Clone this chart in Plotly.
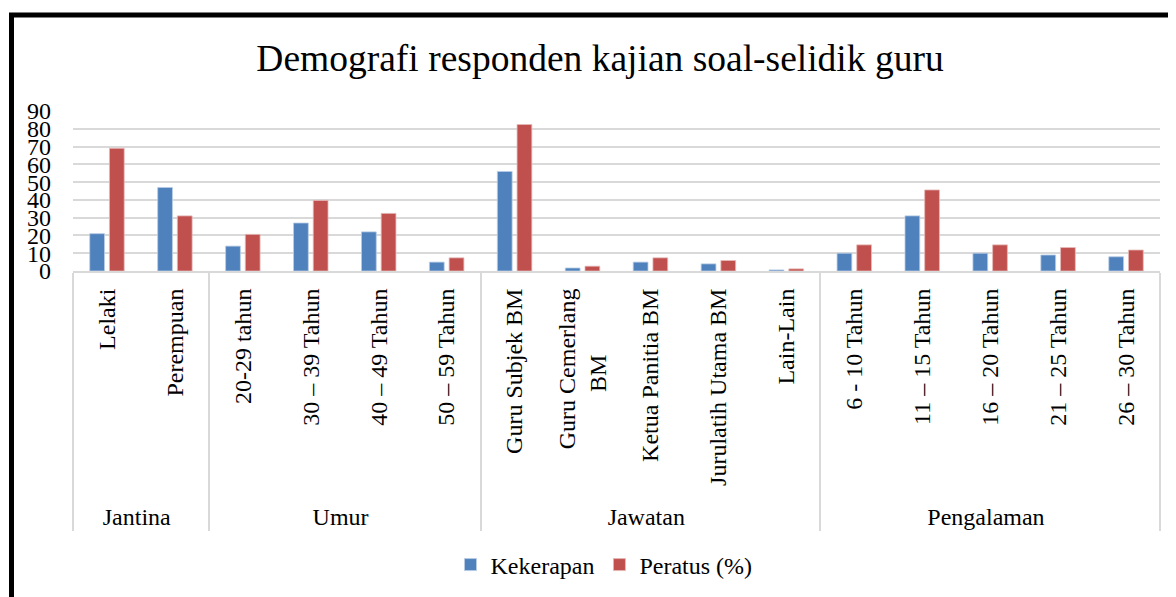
import plotly.graph_objects as go

groups = ["Jantina", "Jantina",
          "Umur", "Umur", "Umur", "Umur",
          "Jawatan", "Jawatan", "Jawatan", "Jawatan", "Jawatan",
          "Pengalaman", "Pengalaman", "Pengalaman", "Pengalaman", "Pengalaman"]
NB = "\u00a0"
labels = ["Lelaki", "Perempuan",
          "20-29 tahun", "30 – 39 Tahun", "40 – 49 Tahun", "50 – 59 Tahun",
          "Guru Subjek BM", "Guru Cemerlang<br>BM" + NB * 11, "Ketua Panitia BM", "Jurulatih Utama BM", "Lain-Lain",
          "6 - 10 Tahun", "11 – 15 Tahun", "16 – 20 Tahun", "21 – 25 Tahun", "26 – 30 Tahun"]
kekerapan = [21, 47, 14, 27, 22, 5, 56, 1.7, 5, 4, 0.6, 10, 31, 10, 9, 8]
peratus = [69, 31, 20.6, 39.7, 32.4, 7.4, 82.4, 2.7, 7.4, 5.9, 1.2, 14.7, 45.6, 14.7, 13.2, 11.8]
yticks = [0, 10, 20, 30, 40, 50, 60, 70, 80, 90]

FONT = "Liberation Serif"
OFF = 8                      # page body margin
W, H = 1176 - OFF, 597 - OFF
# plot area in screenshot pixels
X0, X1, Y0, Y1 = 73, 1160, 111, 272
L, T = X0 - OFF, Y0 - OFF
R, B = W - (X1 - OFF), H - (Y1 - OFF)
pw, ph = X1 - X0, Y1 - Y0

def px(x):
    return (x - X0) / pw

def py(y):
    return (Y1 - y) / ph

fig = go.Figure()
fig.add_trace(go.Bar(x=[groups, labels], y=kekerapan, name="Kekerapan",
                     marker=dict(color="#4F81BD", line=dict(color="#B9CDE5", width=0.8))))
fig.add_trace(go.Bar(x=[groups, labels], y=peratus, name="Peratus (%)",
                     marker=dict(color="#C0504D", line=dict(color="#E6B9B8", width=0.8))))

fig.update_layout(
    width=W, height=H,
    margin=dict(l=L, r=R, t=T, b=B),
    paper_bgcolor="white", plot_bgcolor="white",
    barmode="group", bargap=0.42, bargroupgap=0.25,
    font=dict(family=FONT, size=24, color="black"),
    title=dict(text="Demografi responden kajian soal-selidik guru",
               font=dict(family=FONT, size=37.5, color="black"),
               xref="container", x=(600 - OFF) / W, xanchor="center",
               yref="container", y=1 - (58 - OFF) / H, yanchor="middle"),
    legend=dict(orientation="h", x=px(604), xanchor="center", y=py(565), yanchor="middle",
                font=dict(family=FONT, size=24), traceorder="normal", itemwidth=30),
    showlegend=True,
)
fig.update_yaxes(range=[0, 90], tickvals=yticks, showgrid=True, gridcolor="#D9D9D9",
                 gridwidth=2, zeroline=False, showline=False, ticks="",
                 tickfont=dict(family=FONT, size=24), ticklabelstandoff=21)
fig.update_xaxes(type="multicategory", tickangle=-90, showline=True, linecolor="#D9D9D9",
                 linewidth=2, ticks="", showdividers=True, dividercolor="#D9D9D9",
                 dividerwidth=2, tickfont=dict(family=FONT, size=24), ticklabelstandoff=6)

# outer black frame (top and left edges)
fig.add_shape(type="line", xref="paper", yref="paper", x0=px(11.5), y0=py(610), x1=px(11.5), y1=py(14.5),
              line=dict(color="black", width=5))
fig.add_shape(type="line", xref="paper", yref="paper", x0=px(9), y0=py(14.5), x1=px(1190), y1=py(14.5),
              line=dict(color="black", width=5))

fig.write_html("out.html")
